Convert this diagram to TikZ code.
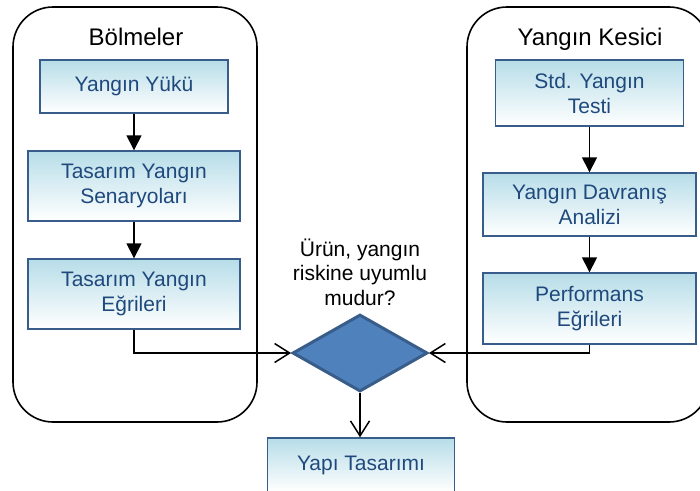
\documentclass[tikz,border=0pt]{standalone}
\usepackage{fontspec,tikz}
\usetikzlibrary{arrows.meta,shapes.geometric}
\setmainfont{Liberation Sans}
\definecolor{kutuust}{RGB}{183,221,232}
\definecolor{kutucizgi}{RGB}{56,93,138}
\definecolor{kutuyazi}{RGB}{31,73,125}
\definecolor{kararic}{RGB}{79,129,189}

\begin{document}
\begin{tikzpicture}[x=1pt,y=-1pt,
  grup/.style={draw,line width=1.6pt,rounded corners=40pt,inner sep=0pt},
  baslik/.style={anchor=base,inner sep=0pt,font=\fontsize{24.0}{28.8}\selectfont},
  kutu/.style={draw=kutucizgi,line width=1.4pt,top color=kutuust,bottom color=white,text=kutuyazi,align=center,inner sep=0pt,font=\fontsize{21.0}{25.0}\selectfont},
  karar/.style={diamond,draw=kutucizgi,fill=kararic,line width=3pt,inner sep=0pt,minimum width=135pt,minimum height=77pt},
  ok/.style={line width=1.5pt,-{Triangle[length=15pt,width=15pt]}},
  akis/.style={line width=1.5pt,-{Straight Barb[length=15pt,width=19pt]}}]
\path[use as bounding box] (0,0) rectangle (700.0,490.0);
\node[grup,minimum width=244pt,minimum height=415pt] (bolme) at (135,214.5) {};
\node[grup,minimum width=242pt,minimum height=415pt] (kesici) at (588,214.5) {};
\node[baslik] (bolmebaslik) at (136,45) {Bölmeler};
\node[baslik] (kesicibaslik) at (590,45) {Yangın Kesici};
\node[kutu,minimum width=188pt,minimum height=53pt] (yy) at (134,86.5) {Yangın Yükü};
\node[kutu,minimum width=212pt,minimum height=70pt] (tys) at (134,186) {Tasarım Yangın\\Senaryoları};
\node[kutu,minimum width=212pt,minimum height=70pt] (tye) at (134,294) {Tasarım Yangın\\Eğrileri};
\node[kutu,minimum width=188pt,minimum height=66pt] (syt) at (589.5,93) {Std. Yangın\\Testi};
\node[kutu,minimum width=213pt,minimum height=63pt] (yda) at (589.5,204.5) {Yangın Davranış\\Analizi};
\node[kutu,minimum width=213pt,minimum height=71pt] (pe) at (589.5,308.5) {Performans\\Eğrileri};
\node[karar] (soru) at (360,353) {};
\node[align=center,inner sep=0pt,font=\fontsize{21.0}{24.5}\selectfont] (sorumetin) at (360,272) {Ürün, yangın\\riskine uyumlu\\mudur?};
\node[kutu,minimum width=187pt,minimum height=54pt] (yt) at (361,465) {Yapı Tasarımı};
\draw[ok] (yy) -- (tys);
\draw[ok] (tys) -- (tye);
\draw[ok] (syt) -- (yda);
\draw[ok] (yda) -- (pe);
\draw[akis] (tye.south) |- (soru.west);
\draw[akis] (pe.south) |- (soru.east);
\draw[akis] (soru.south) -- (yt.north -| soru.south);
\end{tikzpicture}
\end{document}
